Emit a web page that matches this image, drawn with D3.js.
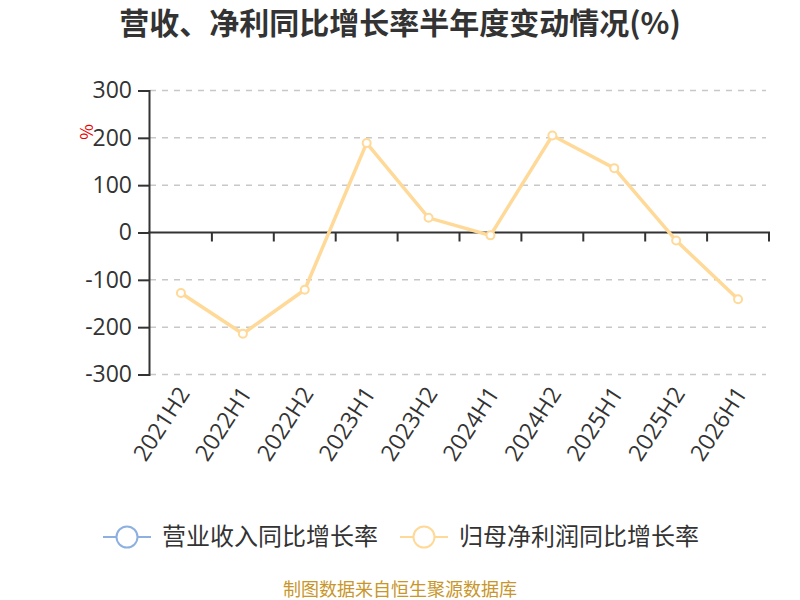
<!DOCTYPE html>
<html>
<head>
<meta charset="utf-8">
<script src="https://cdn.jsdelivr.net/npm/d3@7"></script>
<style>
  body { margin: 0; background: #fff; }
  svg { font-family: "Noto Sans CJK SC", "Noto Sans", sans-serif; }
</style>
</head>
<body>
<svg id="chart" width="800" height="600"></svg>
<script>
var periods = ["2021H2", "2022H1", "2022H2", "2023H1", "2023H2", "2024H1", "2024H2", "2025H1", "2025H2", "2026H1"];
var revenueGrowth = [];
var profitGrowth = [-128, -214, -121, 189, 31, -6, 205, 136, -17, -141];
var yTicks = [-300, -200, -100, 0, 100, 200, 300];
var legendNames = ["营业收入同比增长率", "归母净利润同比增长率"];
var legendColors = ["#8eb0e0", "#ffd998"];

var svg = d3.select("#chart");

var x = d3.scaleBand().domain(periods).range([150, 769]);
var y = d3.scaleLinear().domain([-300, 300]).range([374.5, 90.5]);

// title
svg.append("text")
    .attr("x", 400)
    .attr("y", 34)
    .attr("text-anchor", "middle")
    .attr("font-size", 30)
    .attr("font-weight", "bold")
    .attr("fill", "#333")
    .text("营收、净利同比增长率半年度变动情况(%)");

// grid
svg.append("g")
    .selectAll("line")
    .data(yTicks.filter(d => d !== 0))
    .join("line")
    .attr("x1", 150)
    .attr("x2", 766)
    .attr("y1", d => y(d))
    .attr("y2", d => y(d))
    .attr("stroke", "#c8c8c8")
    .attr("stroke-width", 1.5)
    .attr("stroke-dasharray", "6,6");

// y axis
var yAxis = svg.append("g")
    .attr("transform", "translate(149,0)")
    .call(d3.axisLeft(y).tickValues(yTicks).tickSize(11).tickPadding(6).tickFormat(d => String(d)));
yAxis.select(".domain").attr("stroke", "#333").attr("stroke-width", 2);
yAxis.selectAll(".tick line").attr("stroke", "#333").attr("stroke-width", 2);
yAxis.selectAll("text")
    .attr("font-size", 23)
    .attr("fill", "#333")
    .attr("font-family", "'Open Sans', 'Noto Sans', sans-serif");

// unit label
svg.append("text")
    .attr("transform", "translate(93,132) rotate(-90)")
    .attr("text-anchor", "middle")
    .attr("font-size", 17)
    .attr("fill", "#e00")
    .text("%");

// zero axis with band ticks
var zeroAxis = svg.append("g").attr("transform", "translate(0," + y(0) + ")");
zeroAxis.append("line")
    .attr("x1", 148)
    .attr("x2", 770)
    .attr("stroke", "#333")
    .attr("stroke-width", 2);
zeroAxis.selectAll(".tk")
    .data(periods)
    .join("line")
    .attr("class", "tk")
    .attr("x1", d => x(d) + x.bandwidth())
    .attr("x2", d => x(d) + x.bandwidth())
    .attr("y1", 0)
    .attr("y2", 9)
    .attr("stroke", "#333")
    .attr("stroke-width", 2);

// x labels
svg.append("g")
    .selectAll("text")
    .data(periods)
    .join("text")
    .attr("transform", d => "translate(" + (x(d) + x.bandwidth() / 2 + 3) + ",389) rotate(-57)")
    .attr("text-anchor", "end")
    .attr("dy", "0.35em")
    .attr("font-size", 23)
    .attr("fill", "#333")
    .attr("font-family", "'Open Sans', 'Noto Sans', sans-serif")
    .text(d => d);

// profit line
var line = d3.line()
    .x((d, i) => x(periods[i]) + x.bandwidth() / 2)
    .y(d => y(d));

svg.append("path")
    .datum(profitGrowth)
    .attr("d", line)
    .attr("fill", "none")
    .attr("stroke", legendColors[1])
    .attr("stroke-width", 3.5);

svg.append("g")
    .selectAll("circle")
    .data(profitGrowth)
    .join("circle")
    .attr("cx", (d, i) => x(periods[i]) + x.bandwidth() / 2)
    .attr("cy", d => y(d))
    .attr("r", 4)
    .attr("fill", "#fff")
    .attr("stroke", legendColors[1])
    .attr("stroke-width", 2);

// legend
var legendX = [103, 400];
var legend = svg.append("g")
    .selectAll("g")
    .data(legendNames)
    .join("g")
    .attr("transform", (d, i) => "translate(" + legendX[i] + ",537)");
legend.append("line")
    .attr("x1", 0)
    .attr("x2", 48)
    .attr("stroke", (d, i) => legendColors[i])
    .attr("stroke-width", 2);
legend.append("circle")
    .attr("cx", 24)
    .attr("r", 10.5)
    .attr("fill", "#fff")
    .attr("stroke", (d, i) => legendColors[i])
    .attr("stroke-width", 2);
legend.append("text")
    .attr("x", 59)
    .attr("dy", "0.35em")
    .attr("font-size", 24)
    .attr("fill", "#333")
    .text(d => d);

// source
svg.append("text")
    .attr("x", 400)
    .attr("y", 596)
    .attr("text-anchor", "middle")
    .attr("font-size", 18)
    .attr("fill", "#c8962a")
    .text("制图数据来自恒生聚源数据库");
</script>
</body>
</html>
